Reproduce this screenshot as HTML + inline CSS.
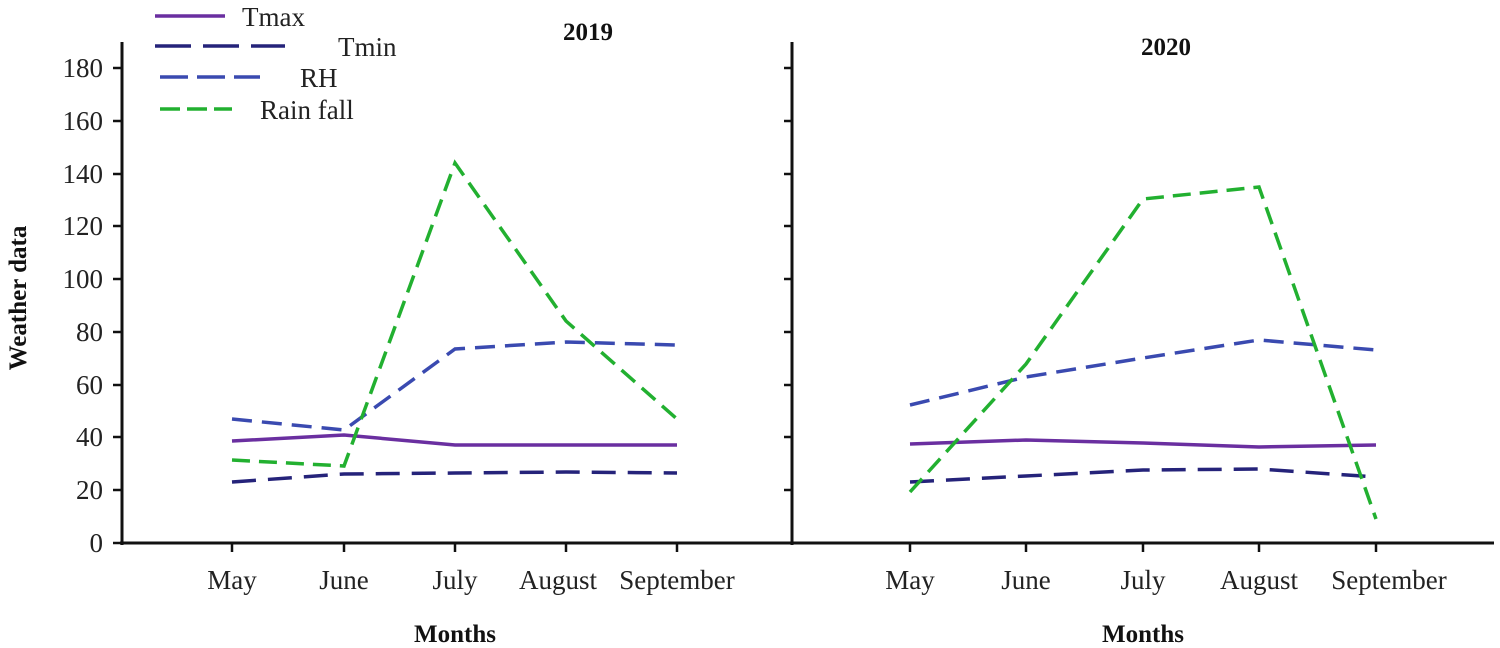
<!DOCTYPE html>
<html><head><meta charset="utf-8"><style>html,body{margin:0;padding:0;background:#fff}svg{display:block}</style></head>
<body>
<svg width="1500" height="648" viewBox="0 0 1500 648" xmlns="http://www.w3.org/2000/svg" font-family="Liberation Serif, serif">
<g stroke="#111" stroke-width="3" fill="none">
<line x1="122" y1="42" x2="122" y2="545"/>
<line x1="120" y1="543" x2="1494" y2="543"/>
<line x1="792" y1="42" x2="792" y2="545"/>
</g>
<g stroke="#111" stroke-width="2.5">
<line x1="113" y1="543" x2="122" y2="543"/><line x1="113" y1="490" x2="122" y2="490"/><line x1="113" y1="437" x2="122" y2="437"/><line x1="113" y1="385" x2="122" y2="385"/><line x1="113" y1="332" x2="122" y2="332"/><line x1="113" y1="279" x2="122" y2="279"/><line x1="113" y1="226" x2="122" y2="226"/><line x1="113" y1="174" x2="122" y2="174"/><line x1="113" y1="121" x2="122" y2="121"/><line x1="113" y1="68" x2="122" y2="68"/>
<line x1="784" y1="490" x2="792" y2="490"/><line x1="784" y1="437" x2="792" y2="437"/><line x1="784" y1="385" x2="792" y2="385"/><line x1="784" y1="332" x2="792" y2="332"/><line x1="784" y1="279" x2="792" y2="279"/><line x1="784" y1="226" x2="792" y2="226"/><line x1="784" y1="174" x2="792" y2="174"/><line x1="784" y1="121" x2="792" y2="121"/><line x1="784" y1="68" x2="792" y2="68"/>
<line x1="232" y1="543" x2="232" y2="552"/><line x1="344" y1="543" x2="344" y2="552"/><line x1="455" y1="543" x2="455" y2="552"/><line x1="566" y1="543" x2="566" y2="552"/><line x1="677" y1="543" x2="677" y2="552"/>
<line x1="910" y1="543" x2="910" y2="552"/><line x1="1026" y1="543" x2="1026" y2="552"/><line x1="1143" y1="543" x2="1143" y2="552"/><line x1="1259" y1="543" x2="1259" y2="552"/><line x1="1376" y1="543" x2="1376" y2="552"/>
</g>
<g font-size="27" fill="#222" text-anchor="end">
<text x="103" y="552">0</text><text x="103" y="499">20</text><text x="103" y="446">40</text><text x="103" y="394">60</text><text x="103" y="341">80</text><text x="103" y="288">100</text><text x="103" y="235">120</text><text x="103" y="183">140</text><text x="103" y="130">160</text><text x="103" y="77">180</text>
</g>
<g font-size="27" fill="#222" text-anchor="middle">
<text x="232" y="589">May</text><text x="344" y="589">June</text><text x="455" y="589">July</text><text x="558" y="589">August</text><text x="677" y="589">September</text>
<text x="910" y="589">May</text><text x="1026" y="589">June</text><text x="1143" y="589">July</text><text x="1259" y="589">August</text><text x="1389" y="589">September</text>
</g>
<g font-size="25" font-weight="bold" fill="#111" text-anchor="middle">
<text x="455" y="642">Months</text><text x="1143" y="642">Months</text>
<text x="588" y="40">2019</text><text x="1166" y="55">2020</text>
<text transform="translate(26 298) rotate(-90)">Weather data</text>
</g>
<g fill="none" stroke-width="3.5">
<polyline stroke="#6a2fa0" points="232,441 344,435 455,445 566,445 677,445"/>
<polyline stroke="#25237a" stroke-dasharray="24,12" points="232,482 344,474 455,473 566,472 677,473"/>
<polyline stroke="#3a4ab0" stroke-dasharray="20,10" points="232,419 344,430 455,349 566,342 677,345"/>
<polyline stroke="#22b030" stroke-dasharray="18,9" points="232,460 344,466 455,163 566,321 677,419"/>
<polyline stroke="#6a2fa0" points="910,444 1026,440 1143,443 1259,447 1376,445"/>
<polyline stroke="#25237a" stroke-dasharray="24,12" points="910,482 1026,476 1143,470 1259,469 1376,477"/>
<polyline stroke="#3a4ab0" stroke-dasharray="20,10" points="910,405 1026,377 1143,358 1259,340 1376,350"/>
<polyline stroke="#22b030" stroke-dasharray="18,9" points="910,492 1026,364 1143,199 1259,187 1376,519"/>
<line x1="155" y1="16" x2="225" y2="16" stroke="#6a2fa0"/>
<line x1="155" y1="46" x2="285" y2="46" stroke="#25237a" stroke-dasharray="36,12"/>
<line x1="160" y1="77" x2="260" y2="77" stroke="#3a4ab0" stroke-dasharray="28,9"/>
<line x1="160" y1="109" x2="232" y2="109" stroke="#22b030" stroke-dasharray="20,7"/>
</g>
<g font-size="27" fill="#222">
<text x="242" y="26">Tmax</text><text x="338" y="56">Tmin</text><text x="300" y="87">RH</text><text x="260" y="119">Rain fall</text>
</g>
</svg>
</body></html>
